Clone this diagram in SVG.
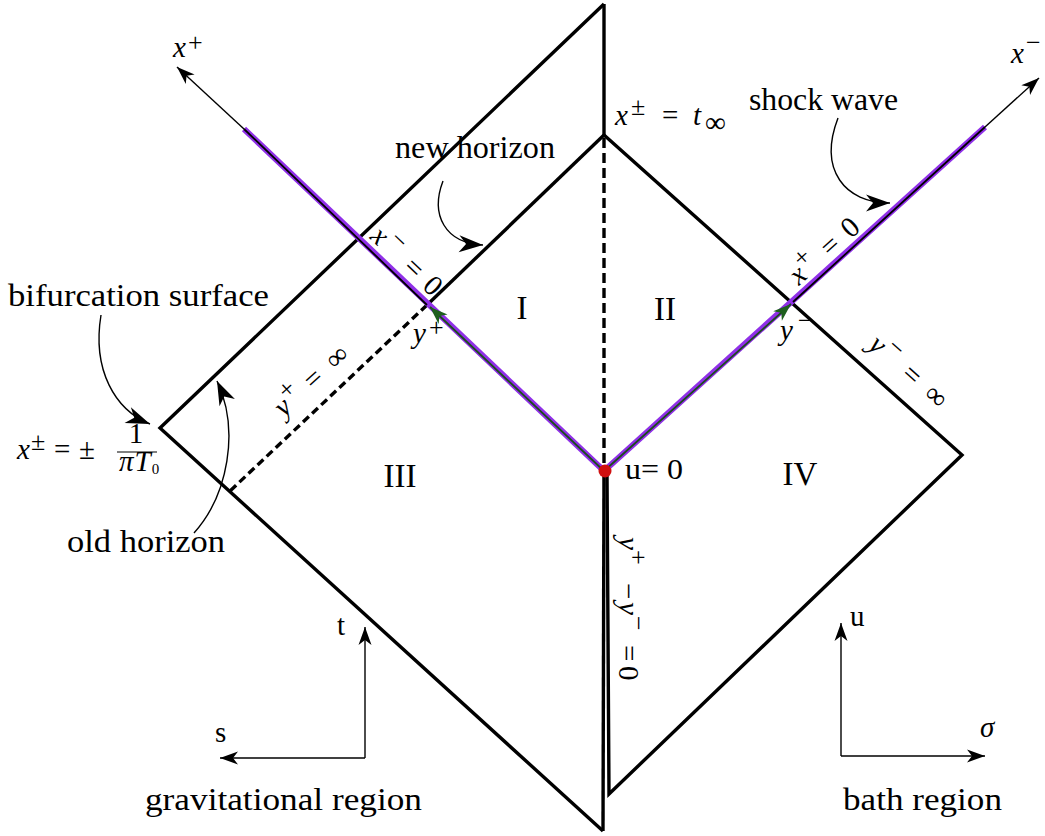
<svg xmlns="http://www.w3.org/2000/svg" width="1045" height="836" viewBox="0 0 1045 836">
<style>
.edge{fill:none;stroke:#000;stroke-width:3.4;stroke-linejoin:miter}
.dashv{fill:none;stroke:#000;stroke-width:3.4;stroke-dasharray:10 5}
.dashd{fill:none;stroke:#000;stroke-width:3.4;stroke-dasharray:8 4.5}
.thin{fill:none;stroke:#000;stroke-width:1.4}
.purple{fill:none;stroke:#9030e8;stroke-width:6}
.core{fill:none;stroke:#000;stroke-width:1.8}
.green{fill:none;stroke:#1a4d1a;stroke-width:1.8}
.txt{font-family:"Liberation Serif","Times New Roman",serif;font-size:31px;fill:#000}
.m{font-family:"Liberation Serif","Times New Roman",serif;font-size:29px;font-style:italic;fill:#000}
.r{font-family:"Liberation Serif","Times New Roman",serif;font-size:29px;fill:#000}
.s{font-size:26px}
.num{font-family:"Liberation Serif","Times New Roman",serif;font-size:33px;fill:#000;text-anchor:middle}
</style>
<defs>
<marker id="ah" viewBox="-19 -8 20 16" refX="0" refY="0" markerWidth="20" markerHeight="16" markerUnits="userSpaceOnUse" orient="auto"><path d="M0,0 L-18,-6.5 L-13,0 L-18,6.5 Z" fill="#000"/></marker>
<marker id="big" viewBox="-25 -10 26 20" refX="0" refY="0" markerWidth="26" markerHeight="20" markerUnits="userSpaceOnUse" orient="auto"><path d="M0,0 L-24,-8.5 L-17,0 L-24,8.5 Z" fill="#000"/></marker>
<marker id="gh" viewBox="-19 -8 20 16" refX="0" refY="0" markerWidth="20" markerHeight="16" markerUnits="userSpaceOnUse" orient="auto"><path d="M0,0 L-18,-6.5 L-13,0 L-18,6.5 Z" fill="#1e5f1e"/></marker>
</defs>
<rect width="1045" height="836" fill="#fff"/>

<g id="diagram-lines">
  <g id="left-diamond">
    <path class="edge" d="M604,4 L160,428 L603,831"/>
    <path class="edge" d="M604,4 L604,135"/>
    <path class="dashv" d="M604,138 L604,471"/>
    <path class="edge" d="M604,471 L603,831"/>
  </g>
  <g id="right-diamond">
    <path class="edge" d="M604,135 L962,455 L609,794 L607,474"/>
  </g>
  <g id="horizons">
    <path class="edge" d="M604,135 L427,305"/>
    <path class="dashd" d="M427,305 L230,491"/>
  </g>
  <g id="shock-wave">
    <path class="purple" d="M244,129 L604,471 L985,127"/>
    <path class="core" d="M244,129 L427,305"/>
    <path class="core" d="M793,302 L985,127"/>
    <path class="green" d="M604,471 L430,307" marker-end="url(#gh)"/>
    <path class="green" d="M604,471 L791,304" marker-end="url(#gh)"/>
    <path class="thin" d="M244,129 L177,67" marker-end="url(#ah)"/>
    <path class="thin" d="M985,127 L1039,78" marker-end="url(#ah)"/>
  </g>
  <circle id="u0-point" cx="605" cy="471" r="6.5" fill="#d01010"/>
</g>

<g id="connectors">
  <path class="thin" d="M101,315 C92,370 115,410 150,424" marker-end="url(#big)"/>
  <path class="thin" d="M194,533 C228,495 240,430 217,381" marker-end="url(#big)"/>
  <path class="thin" d="M443,181 C430,215 445,243 483,245" marker-end="url(#big)"/>
  <path class="thin" d="M838,118 C818,170 845,203 890,203" marker-end="url(#big)"/>
  <path class="thin" d="M365,758 L365,627" marker-end="url(#ah)"/>
  <path class="thin" d="M365,758 L220,758" marker-end="url(#ah)"/>
  <path class="thin" d="M841,756 L841,623" marker-end="url(#ah)"/>
  <path class="thin" d="M841,756 L985,756" marker-end="url(#ah)"/>
</g>

<g id="labels">
  <text class="txt" x="8" y="306" textLength="261" lengthAdjust="spacingAndGlyphs">bifurcation surface</text>
  <text class="txt" x="67" y="552" textLength="158" lengthAdjust="spacingAndGlyphs">old horizon</text>
  <text class="txt" x="395" y="158" textLength="160" lengthAdjust="spacingAndGlyphs">new horizon</text>
  <text class="txt" x="749" y="110" textLength="149" lengthAdjust="spacingAndGlyphs">shock wave</text>
  <text class="txt" x="145" y="810" textLength="277" lengthAdjust="spacingAndGlyphs">gravitational region</text>
  <text class="txt" x="843" y="810" textLength="159" lengthAdjust="spacingAndGlyphs">bath region</text>

  <text class="num" x="522" y="319">I</text>
  <text class="num" x="665" y="320">II</text>
  <text class="num" x="400" y="487">III</text>
  <text class="num" x="800" y="485">IV</text>

  <text class="r" x="625" y="479" font-size="27" textLength="58" lengthAdjust="spacingAndGlyphs">u= 0</text>
  <text class="r" x="337" y="635" font-size="26">t</text>
  <text class="r" x="215" y="742" font-size="26">s</text>
  <text class="r" x="850" y="626" font-size="26">u</text>
  <text class="m" x="980" y="737" font-size="26">σ</text>

  <text class="m" x="173" y="57">x</text><text class="r s" x="188" y="51">+</text>
  <text class="m" x="1011" y="63">x</text><text class="r s" x="1026" y="51">−</text>

  <text class="m" x="413" y="343">y</text><text class="r s" x="429" y="336">+</text>
  <text class="m" x="780" y="340">y</text><text class="r s" x="798" y="329">−</text>

  <g id="t-infinity">
    <text class="m" x="615" y="125">x</text>
    <text class="r s" x="631" y="115">±</text>
    <text class="r" x="662" y="125">=</text>
    <text class="m" x="693" y="125">t</text>
    <text class="r" x="705" y="132" font-size="26">∞</text>
  </g>
  <g id="bifurcation-value">
    <text class="m" x="17" y="459">x</text>
    <text class="r s" x="31" y="450">±</text>
    <text class="r" x="54" y="459">=</text>
    <text class="r" x="79" y="459">±</text>
    <text class="r" x="136" y="443" font-size="17" text-anchor="middle">1</text>
    <line x1="117" y1="452" x2="157" y2="452" stroke="#000" stroke-width="1.1"/>
    <text class="m" x="119" y="471" font-size="18">π<tspan dx="1">T</tspan><tspan font-style="normal" font-size="15" dx="1" dy="3">0</tspan></text>
  </g>

  <g transform="translate(369,238) rotate(43.5)">
    <text class="m" x="0" y="0">x</text>
    <text class="r s" x="16" y="-11">−</text>
    <text class="r" x="45" y="0">=</text>
    <text class="r" x="72" y="0">0</text>
  </g>
  <g transform="translate(799,286) rotate(-42)">
    <text class="m" x="0" y="0">x</text>
    <text class="r s" x="14" y="-11">+</text>
    <text class="r" x="42" y="0">=</text>
    <text class="r" x="70" y="0">0</text>
  </g>
  <g transform="translate(867,347) rotate(41.8)">
    <text class="m" x="0" y="0">y</text>
    <text class="r s" x="15" y="-11">−</text>
    <text class="r" x="44" y="0">=</text>
    <text class="r" x="74" y="0">∞</text>
  </g>
  <g transform="translate(284,418) rotate(-42.5)">
    <text class="m" x="0" y="0">y</text>
    <text class="r s" x="14" y="-11">+</text>
    <text class="r" x="40" y="0">=</text>
    <text class="r" x="70" y="0">∞</text>
  </g>
  <g transform="translate(619,537) rotate(90)">
    <text class="m" x="0" y="0">y</text>
    <text class="r s" x="13" y="-11">+</text>
    <text class="r" x="46" y="0">−</text>
    <text class="m" x="65" y="0">y</text>
    <text class="r s" x="79" y="-11">−</text>
    <text class="r" x="108" y="0">=</text>
    <text class="r" x="129" y="0">0</text>
  </g>
</g>
</svg>
